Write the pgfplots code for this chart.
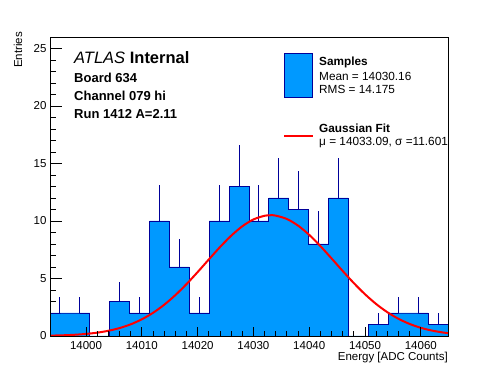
\documentclass[border=0pt]{standalone}
\usepackage{fontspec}
\setmainfont{Liberation Sans}
\usepackage{pgfplots}
\pgfplotsset{compat=1.18}
\definecolor{histblue}{RGB}{0,153,255}
\definecolor{histnavy}{RGB}{0,0,153}
\newcommand{\ticksize}{\fontsize{11.5}{13.8}\selectfont}
\newcommand{\legsize}{\fontsize{11.8}{14}\selectfont}
\begin{document}
\begin{tikzpicture}
\path[use as bounding box] (0,0) rectangle (498pt,374pt);
\begin{axis}[
  at={(50pt,38pt)}, anchor=south west,
  scale only axis, width=398pt, height=299pt,
  xmin=13993.55, xmax=14064.87, ymin=0, ymax=26,
  xtick=\empty, scaled x ticks=false, scaled y ticks=false,
  ytick={0,5,10,15,20,25}, minor y tick num=4,
  ytick pos=left, tick align=inside,
  major tick length=12pt, minor tick length=6.5pt,
  tick style={black, line width=0.8pt},
  axis line style={black, line width=0.8pt},
  /pgf/number format/assume math mode=true,
  yticklabel style={font=\ticksize},
  clip=true,
]
\addplot[const plot, fill=histblue, draw=histnavy, line width=0.9pt] coordinates {
(13993.55,2) (13997.12,2) (14000.68,0) (14004.25,3) (14007.81,2)
(14011.38,10) (14014.95,6) (14018.51,2) (14022.08,10) (14025.64,13)
(14029.21,10) (14032.78,12) (14036.34,11) (14039.91,8) (14043.47,12)
(14047.04,0) (14050.61,1) (14054.17,2) (14057.74,2) (14061.30,1)
(14064.87,1)} \closedcycle;
\addplot[draw=none, mark=none, forget plot,
  error bars/.cd, y dir=plus, y explicit, error mark=none,
  error bar style={draw=histnavy, line width=0.9pt}] coordinates {
(13995.33,2) +- (0,1.414)
(13998.90,2) +- (0,1.414)
(14006.03,3) +- (0,1.732)
(14009.60,2) +- (0,1.414)
(14013.16,10) +- (0,3.162)
(14016.73,6) +- (0,2.449)
(14020.30,2) +- (0,1.414)
(14023.86,10) +- (0,3.162)
(14027.43,13) +- (0,3.606)
(14030.99,10) +- (0,3.162)
(14034.56,12) +- (0,3.464)
(14038.12,11) +- (0,3.317)
(14041.69,8) +- (0,2.828)
(14045.26,12) +- (0,3.464)
(14052.39,1) +- (0,1)
(14055.96,2) +- (0,1.414)
(14059.52,2) +- (0,1.414)
(14063.09,1) +- (0,1)
};
\addplot[red, line width=2pt, smooth] coordinates {
(13993.6,0.032) (13996,0.063) (13998,0.108) (14000,0.180) (14002,0.289)
(14004,0.453) (14006,0.687) (14008,1.013) (14010,1.449) (14012,2.011)
(14014,2.712) (14016,3.548) (14018,4.506) (14020,5.555) (14022,6.649)
(14024,7.725) (14026,8.711) (14028,9.536) (14030,10.134) (14032,10.454)
(14033.09,10.5) (14034,10.468) (14036,10.175) (14038,9.600) (14040,8.793)
(14042,7.818) (14044,6.748) (14046,5.653) (14048,4.597) (14050,3.629)
(14052,2.781) (14054,2.069) (14056,1.494) (14058,1.047) (14060,0.712)
(14062,0.471) (14064,0.302) (14064.87,0.250)};
\end{axis}
\begin{axis}[
  at={(50pt,38pt)}, anchor=south west,
  scale only axis, width=398pt, height=299pt,
  xmin=13993.55, xmax=14064.87, ymin=0, ymax=26,
  ytick=\empty, scaled x ticks=false, scaled y ticks=false,
  xtick={14000,14010,14020,14030,14040,14050,14060},
  xticklabels={14000,14010,14020,14030,14040,14050,14060},
  minor x tick num=4,
  xtick pos=left, tick align=inside,
  major tick length=9pt, minor tick length=4.5pt,
  tick style={black, line width=0.8pt},
  axis line style={black, line width=0.8pt},
  xticklabel style={font=\ticksize, yshift=-2pt},
]
\end{axis}
% axis titles
\node[rotate=90, anchor=east, inner sep=0pt, font=\ticksize] at (18pt,342pt) {Entries};
\node[anchor=base east, inner sep=0pt, font=\ticksize] at (448pt,13pt) {Energy [ADC Counts]};
% ATLAS label
\node[anchor=base west, inner sep=0pt, font=\fontsize{16.5}{19}\selectfont] at (74pt,310pt) {\textit{ATLAS} \textbf{Internal}};
\node[anchor=base west, inner sep=0pt, font=\fontsize{13}{15}\selectfont\bfseries] at (74pt,291.8pt) {Board 634};
\node[anchor=base west, inner sep=0pt, font=\fontsize{13}{15}\selectfont\bfseries] at (74pt,273.5pt) {Channel 079 hi};
\node[anchor=base west, inner sep=0pt, font=\fontsize{13}{15}\selectfont\bfseries] at (74pt,255.2pt) {Run 1412 A=2.11};
% legend
\filldraw[fill=histblue, draw=histnavy, line width=0.9pt] (284pt,276.5pt) rectangle (312.5pt,320.5pt);
\draw[red, line width=2pt] (284pt,237.5pt) -- (312.5pt,237.5pt);
\node[anchor=base west, inner sep=0pt, font=\legsize\bfseries] at (319pt,308.5pt) {Samples};
\node[anchor=base west, inner sep=0pt, font=\legsize] at (319pt,293pt) {Mean = 14030.16};
\node[anchor=base west, inner sep=0pt, font=\legsize] at (319pt,280pt) {RMS = 14.175};
\node[anchor=base west, inner sep=0pt, font=\legsize\bfseries] at (319pt,241pt) {Gaussian Fit};
\node[anchor=base west, inner sep=0pt, font=\legsize] at (319pt,228pt) {μ = 14033.09, σ =11.601};
\end{tikzpicture}
\end{document}
